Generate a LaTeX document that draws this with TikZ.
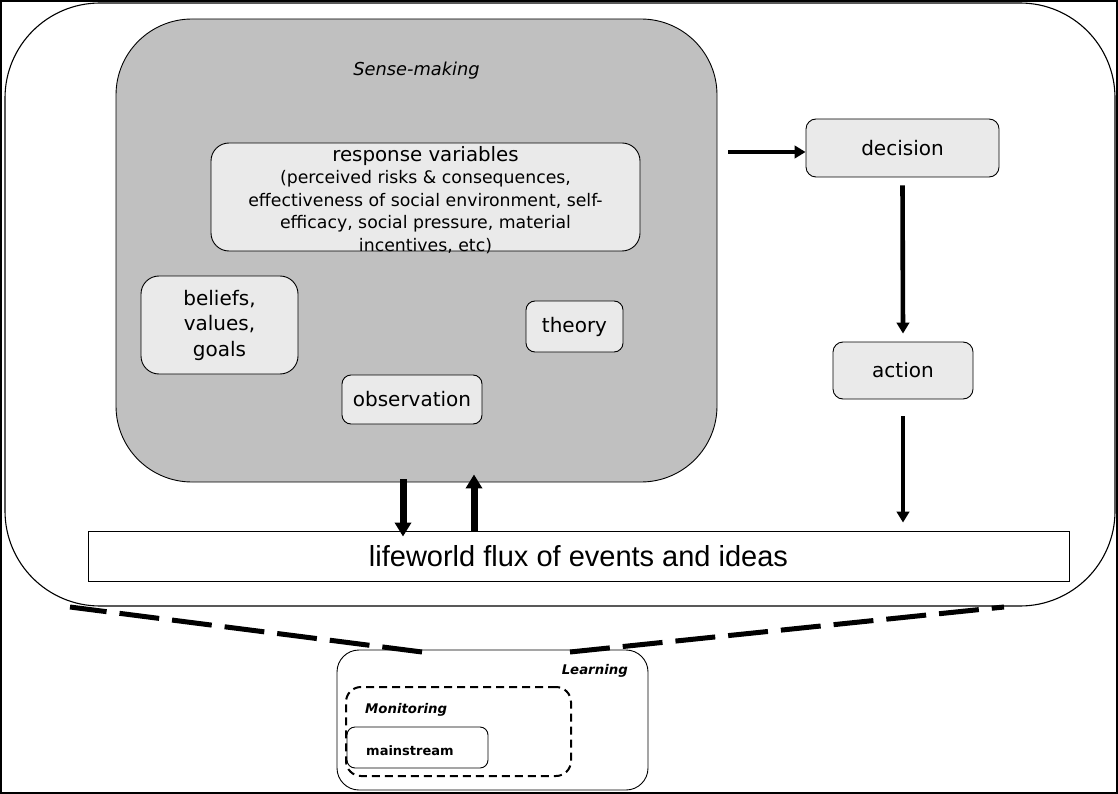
\documentclass[tikz,border=0pt]{standalone}
\usepackage{fontspec}
\setmainfont{DejaVu Sans}
\newfontfamily\arialfont{Liberation Sans}
\usetikzlibrary{arrows.meta,calc}
\definecolor{sensegray}{HTML}{C0C0C0}
\definecolor{boxgray}{HTML}{EAEAEA}
\tikzset{
  lbox/.style={draw=black, fill=boxgray, line width=0.9pt, inner sep=0pt, align=center, font=\fontsize{20}{25.5}\selectfont},
  plainbox/.style={draw=black, line width=0.9pt, inner sep=0pt},
  thinarrow/.style={line width=4.6pt, -{Triangle[length=11pt,width=12.5pt]}},
  heavyarrow/.style={line width=7pt, -{Triangle[length=14pt,width=16pt]}},
  linkdash/.style={line width=5pt, dash pattern=on 40pt off 13pt},
  smalllabel/.style={inner sep=0pt, font=\bfseries\itshape\fontsize{13.3}{16}\selectfont},
}
\begin{document}
\begin{tikzpicture}[x=1pt,y=-1pt]
\useasboundingbox (0,0) rectangle (1118,794);
% frame
\node[plainbox, line width=2pt, minimum width=1116pt, minimum height=792pt] (frame) at (559,397) {};
% outer rounded container
\node[plainbox, line width=1.1pt, rounded corners=95pt, minimum width=1110pt, minimum height=603pt] (outer) at (560,304.5) {};
% sense-making
\node[plainbox, fill=sensegray, rounded corners=76pt, minimum width=601pt, minimum height=463pt] (gray) at (416.5,250.5) {};
\node[inner sep=0pt, font=\itshape\fontsize{17.8}{22}\selectfont] (sensetitle) at (416.5,71) {Sense-making};
% response variables
\node[lbox, rounded corners=18pt, minimum width=429pt, minimum height=108pt] (respbox) at (425.5,197) {};
\node[inner sep=0pt, align=center, font=\fontsize{17.3}{22.5}\selectfont] (resptext) at (425.5,200)
  {{\fontsize{19.8}{22.5}\selectfont response variables}\\(perceived risks \& consequences,\\effectiveness of social environment, self-\\efficacy, social pressure, material\\incentives, etc)};
\node[lbox, rounded corners=18pt, minimum width=157pt, minimum height=98pt] (beliefs) at (219.5,325) {beliefs,\\values,\\goals};
\node[lbox, rounded corners=9pt, minimum width=97pt, minimum height=51pt] (theory) at (574.5,326.5) {theory};
\node[lbox, rounded corners=9pt, minimum width=140pt, minimum height=49pt] (observation) at (412,399.5) {observation};
% right column
\node[lbox, rounded corners=10pt, minimum width=193pt, minimum height=58pt] (decision) at (902.5,148) {decision};
\node[lbox, rounded corners=10pt, minimum width=140pt, minimum height=57pt] (action) at (903,370.5) {action};
% lifeworld
\node[plainbox, fill=white, minimum width=981pt, minimum height=50pt, font=\arialfont\fontsize{29}{34}\selectfont] (life) at (578.5,556) {lifeworld flux of events and ideas};
% arrows
\draw[thinarrow] ($(gray.east |- decision.west)+(11,4)$) -- ($(decision.west)+(0,4)$);
\draw[thinarrow] ($(decision.south)+(0,8)$) -- ($(action.north)+(0,-8)$);
\draw[thinarrow] ($(action.south)+(0,17)$) -- ($(action.south |- life.north)+(0,-8)$);
\draw[heavyarrow] ($(gray.south)+(-13.5,-3)$) -- ($(life.north)+(-175.5,6)$);
\draw[heavyarrow] ($(life.north)+(-104.5,0)$) -- ($(gray.south)+(57.5,-8)$);
% learning
\node[plainbox, rounded corners=22pt, minimum width=311pt, minimum height=140pt] (learn) at (492.5,720) {};
\node[smalllabel, anchor=east] (learntxt) at (628,671) {Learning};
\node[plainbox, rounded corners=8pt, minimum width=141pt, minimum height=41pt] (mainbox) at (417.5,747.5) {};
\node[plainbox, line width=2pt, dash pattern=on 8pt off 5pt, rounded corners=15pt, minimum width=225pt, minimum height=89pt] (monitor) at (458.5,731.5) {};
\node[smalllabel, anchor=west] (montxt) at (365,710) {Monitoring};
\node[inner sep=0pt, anchor=west, font=\bfseries\fontsize{13}{16}\selectfont] (maintxt) at (366,751) {mainstream};
% dashed links
\coordinate (dl1) at (422,652);
\coordinate (dl2) at (70,607);
\coordinate (dr1) at (570,652);
\coordinate (dr2) at (1004,607);
\draw[linkdash] (dl1) -- (dl2);
\draw[linkdash] (dr1) -- (dr2);
\end{tikzpicture}
\end{document}
